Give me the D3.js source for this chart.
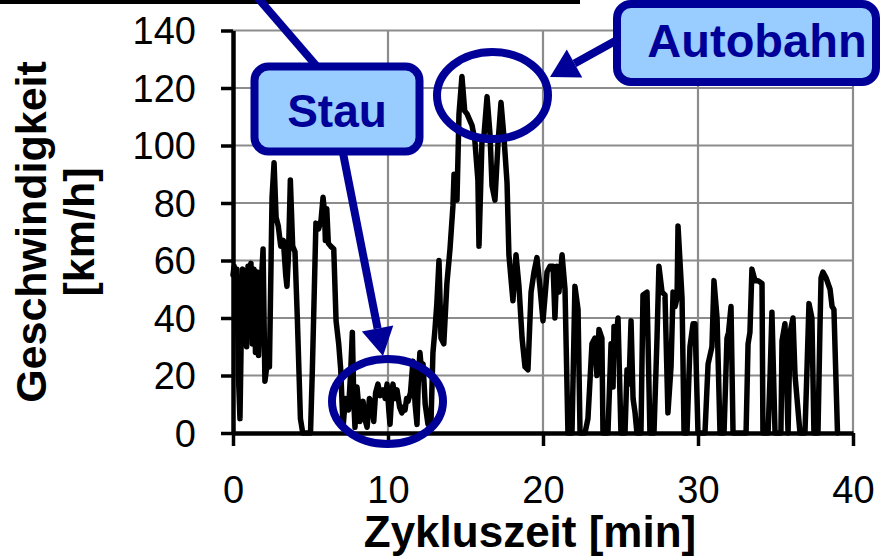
<!DOCTYPE html>
<html><head><meta charset="utf-8">
<script src="https://cdn.jsdelivr.net/npm/d3@7"></script>
<style>body{margin:0;background:#fff} svg{display:block}</style>
</head><body>
<svg id="c" width="880" height="558"></svg>
<script>
// ---- data ----
const times = [0.00,0.08,0.16,0.25,0.35,0.45,0.55,0.62,0.70,0.80,0.88,0.97,1.05,1.16,1.25,1.35,1.45,1.55,1.65,1.78,1.94,2.06,2.20,2.35,2.52,2.65,2.78,2.92,3.08,3.25,3.40,3.48,3.58,3.70,3.85,4.00,4.15,4.35,4.50,5.00,5.12,5.22,5.35,5.52,5.68,5.81,5.90,5.96,6.05,6.15,6.30,6.50,6.65,6.82,6.95,7.10,7.25,7.45,7.58,7.70,7.80,7.87,8.00,8.10,8.19,8.30,8.39,8.50,8.65,8.80,8.97,9.08,9.20,9.35,9.50,9.68,9.82,9.94,10.05,10.13,10.25,10.32,10.45,10.58,10.75,10.90,11.00,11.10,11.20,11.29,11.45,11.61,11.75,11.87,11.97,12.06,12.16,12.26,12.40,12.58,12.77,12.90,13.03,13.15,13.29,13.42,13.60,13.80,14.00,14.19,14.26,14.45,14.58,14.77,14.95,15.10,15.42,15.60,15.80,15.87,16.06,16.20,16.39,16.58,16.71,16.90,17.10,17.29,17.48,17.68,17.80,18.06,18.26,18.45,18.65,18.84,19.03,19.23,19.42,19.61,19.80,20.00,20.26,20.45,20.65,20.77,20.90,21.03,21.23,21.42,21.61,21.87,22.06,22.26,22.39,22.71,22.90,23.16,23.35,23.48,23.61,23.80,23.87,24.19,24.39,24.52,24.58,24.77,24.84,25.03,25.29,25.42,25.55,25.68,25.81,25.94,26.06,26.32,26.45,26.71,26.90,27.16,27.35,27.48,27.68,27.87,28.06,28.26,28.39,28.52,28.65,28.71,28.97,29.10,29.29,29.48,29.68,29.81,30.00,30.45,30.65,30.90,31.03,31.23,31.42,31.68,31.87,31.97,32.13,32.26,33.10,33.23,33.35,33.48,33.68,33.87,34.13,34.19,34.52,34.65,34.77,34.97,35.35,35.42,35.61,35.81,35.94,36.13,36.26,36.58,36.90,37.03,37.16,37.35,37.48,37.74,37.87,37.94,38.06,38.26,38.52,38.65,38.77,39.00];
const speeds = [55,58,48,57,20,5,40,57,45,56,30,58,42,59,31,57,28,56,27,48,64,18,24,23,82,94,75,72,65,67,55,51,62,88,65,63,40,5,0,0,22,44,73,71,74,82,77,67,78,66,65,64,39,31,22,2,12,8,20,35,10,2,16,10,4,9,11,5,2,12,10,4,14,17,13,15,12,17,8,3,14,17,12,15,9,7,9,8,12,11,14,25,10,3,20,28,22,24,10,3,3,28,36,45,60,33,31,52,64,79,90,81,111,124,112,111,107,102,88,65,101,104,117,104,86,81,101,115,103,87,62,46,62,51,33,23,22,49,56,61,51,39,56,58,58,40,58,49,62,50,0,0,51,43,0,0,5,31,33,20,36,33,0,0,31,16,37,36,40,0,0,22,17,39,12,7,0,0,48,49,0,0,32,58,49,48,7,23,49,44,47,72,47,0,0,30,38,38,0,0,24,30,53,40,0,0,33,35,44,0,0,31,35,57,53,53,52,0,0,20,42,0,0,32,38,0,35,40,20,0,0,22,45,40,0,0,37,54,56,54,50,44,43,0];
const xTicks = [0,10,20,30,40];
const yTicks = [0,20,40,60,80,100,120,140];
const xTitle = "Zykluszeit [min]";
const yTitleLines = ["Geschwindigkeit","[km/h]"];
const calloutStau = "Stau";
const calloutAutobahn = "Autobahn";

// ---- drawing ----
const FONT = '"Liberation Sans", Arial, sans-serif';
const NAVY = "#000099", LIGHT = "#99ccff", GRID = "#8c8c8c";
const svg = d3.select("#c");
const L = 233, R = 853, T = 30.5, B = 433;
const x = d3.scaleLinear().domain([0, 40]).range([L, R]);
const y = d3.scaleLinear().domain([0, 140]).range([B, T]);

// gridlines
svg.append("g").selectAll("line").data(yTicks.filter(d => d > 0)).join("line")
  .attr("x1", L).attr("x2", R).attr("y1", d => y(d)).attr("y2", d => y(d))
  .attr("stroke", GRID).attr("stroke-width", 2.2);
svg.append("g").selectAll("line").data(xTicks.filter(d => d > 0)).join("line")
  .attr("y1", T).attr("y2", B).attr("x1", d => x(d)).attr("x2", d => x(d))
  .attr("stroke", GRID).attr("stroke-width", 2.2);

// data line
const data = times.map((t, i) => [t, speeds[i]]);
svg.append("path").datum(data)
  .attr("d", d3.line().x(d => x(d[0])).y(d => y(d[1])))
  .attr("fill", "none").attr("stroke", "#000").attr("stroke-width", 5.5)
  .attr("stroke-linejoin", "round").attr("stroke-linecap", "round");

// axes
const ya = svg.append("g").attr("transform", `translate(${L},0)`)
  .call(d3.axisLeft(y).tickValues(yTicks).tickSize(12).tickSizeOuter(0).tickPadding(25));
ya.select(".domain").attr("stroke-width", 4.5).attr("stroke", "#000");
ya.selectAll(".tick line").attr("stroke-width", 3.5).attr("stroke", "#000");
ya.selectAll(".tick text").style("font-family", FONT).style("font-size", "38px").attr("fill", "#000").attr("dy", "0.35em");

const xa = svg.append("g").attr("transform", `translate(0,${B})`)
  .call(d3.axisBottom(x).tickValues(xTicks).tickSize(13).tickSizeOuter(0).tickPadding(30));
xa.select(".domain").attr("stroke-width", 4.5).attr("stroke", "#000");
xa.selectAll(".tick line").attr("stroke-width", 3.5).attr("stroke", "#000");
xa.selectAll(".tick text").style("font-family", FONT).style("font-size", "38px").attr("fill", "#000");

// axis titles
svg.append("text").attr("x", 530).attr("y", 547).attr("text-anchor", "middle")
  .style("font-family", FONT).style("font-size", "44px").style("font-weight", "bold").text(xTitle);
const ytPos = [46, 94];
yTitleLines.forEach((s, i) => {
  svg.append("text").attr("transform", `translate(${ytPos[i]},232) rotate(-90)`)
    .attr("text-anchor", "middle").style("font-family", FONT).style("font-size", "43px")
    .style("font-weight", "bold").text(s);
});

// annotations
const ann = svg.append("g");
ann.append("line").attr("x1", 0).attr("y1", 2).attr("x2", 580).attr("y2", 2).attr("stroke", "#000").attr("stroke-width", 4);
ann.append("line").attr("x1", 251).attr("y1", -10).attr("x2", 320).attr("y2", 70).attr("stroke", NAVY).attr("stroke-width", 8);

function arrow(x1, y1, tx, ty, len, half) {
  const dx = tx - x1, dy = ty - y1, l = Math.hypot(dx, dy), ux = dx / l, uy = dy / l;
  const bx = tx - ux * len, by = ty - uy * len, nx = -uy, ny = ux;
  ann.append("line").attr("x1", x1).attr("y1", y1).attr("x2", bx).attr("y2", by)
    .attr("stroke", NAVY).attr("stroke-width", 8);
  ann.append("polygon").attr("points", `${tx},${ty} ${bx + nx * half},${by + ny * half} ${bx - nx * half},${by - ny * half}`)
    .attr("fill", NAVY);
}

// Stau
ann.append("ellipse").attr("cx", 387.5).attr("cy", 401.5).attr("rx", 55.5).attr("ry", 42.5)
  .attr("fill", "none").attr("stroke", NAVY).attr("stroke-width", 8);
arrow(343, 153, 383, 356, 28, 16);
ann.append("rect").attr("x", 254.5).attr("y", 66.5).attr("width", 165).attr("height", 85).attr("rx", 14)
  .attr("fill", LIGHT).attr("stroke", NAVY).attr("stroke-width", 8);
ann.append("text").attr("x", 337).attr("y", 127).attr("text-anchor", "middle")
  .style("font-family", FONT).style("font-size", "46px").style("font-weight", "bold").attr("fill", NAVY).text(calloutStau);

// Autobahn
ann.append("ellipse").attr("cx", 492.5).attr("cy", 95.5).attr("rx", 55.5).attr("ry", 43.5)
  .attr("fill", "none").attr("stroke", NAVY).attr("stroke-width", 8);
arrow(617, 40, 550, 77, 28, 16);
ann.append("rect").attr("x", 617).attr("y", 4).attr("width", 259).attr("height", 78).attr("rx", 14)
  .attr("fill", LIGHT).attr("stroke", NAVY).attr("stroke-width", 8);
ann.append("text").attr("x", 757).attr("y", 57).attr("text-anchor", "middle")
  .style("font-family", FONT).style("font-size", "47px").style("font-weight", "bold").attr("fill", NAVY).text(calloutAutobahn);
</script>
</body></html>
